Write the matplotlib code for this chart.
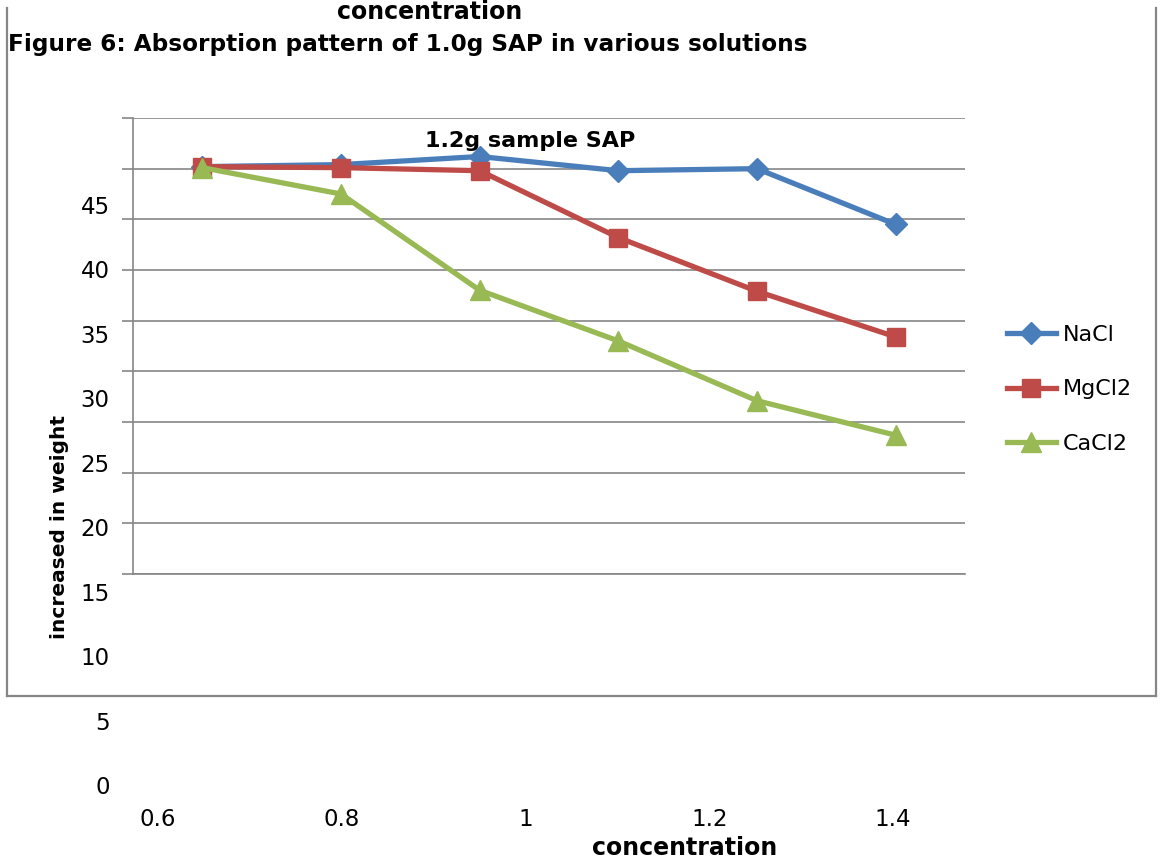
import numpy as np
import matplotlib.pyplot as plt
from matplotlib.lines import Line2D

# concentrations of the salt solutions
conc = [0.65, 0.8, 0.95, 1.1, 1.25, 1.4]
# increase in weight for each salt
nacl = [50.2, 50.4, 51.2, 49.8, 50.0, 44.5]
mgcl2 = [50.2, 50.1, 49.8, 43.2, 37.9, 33.4]
cacl2 = [50.1, 47.5, 38.0, 33.0, 27.1, 23.7]

grid_vals = np.arange(10, 56, 5)
ytick_labels = [0, 5, 10, 15, 20, 25, 30, 35, 40, 45]
xtick_labels = [0.6, 0.8, 1, 1.2, 1.4]

W, H = 1160, 865
fig = plt.figure(figsize=(W / 100, H / 100), dpi=100)
fig.patch.set_facecolor('white')

def box(l, t, r, b):
    return [l / W, 1 - b / H, (r - l) / W, (b - t) / H]

gray = '#868686'

# outer frame around the chart object (no top edge)
for xs, ys in [((7, 7), (8, 696)), ((7, 1156), (696, 696)), ((1156, 1156), (8, 696))]:
    fig.add_artist(Line2D([x / W for x in xs], [1 - y / H for y in ys],
                          color=gray, lw=1.6))

# plot area with gridlines
ax = fig.add_axes(box(133, 118, 965, 574))
ax.set_xlim(-0.5, 5.5)
ax.set_ylim(10, 55)
ax.set_yticks(grid_vals)
ax.set_yticklabels([])
ax.set_xticks([])
ax.grid(axis='y', color=gray, lw=1.2)
ax.tick_params(axis='y', length=8, width=1.2, color=gray)
for s in ['top', 'right']:
    ax.spines[s].set_visible(False)
for s in ['left', 'bottom']:
    ax.spines[s].set_color(gray)
    ax.spines[s].set_linewidth(1.2)
ax.set_axisbelow(True)

idx = np.arange(len(conc))
ax.plot(idx, nacl, color='#4A7EBB', lw=3.8, marker='D', ms=11, label='NaCl', clip_on=False)
ax.plot(idx, mgcl2, color='#BE4B48', lw=3.8, marker='s', ms=13, label='MgCl2', clip_on=False)
ax.plot(idx, cacl2, color='#98B954', lw=3.8, marker='^', ms=14, label='CaCl2', clip_on=False)

ax.text(0.477, 0.95, '1.2g sample SAP', transform=ax.transAxes, ha='center', va='center',
        fontsize=16, fontweight='bold')

leg = fig.legend(loc='upper left', bbox_to_anchor=(998 / W, 1 - 316 / H), frameon=False,
                 fontsize=16, handlelength=2.2, handletextpad=0.3, labelspacing=1.55,
                 borderaxespad=0)

# tick label layer
ax2 = fig.add_axes(box(118, 118, 965, 800))
ax2.set_xlim(0.6 - 40 / 918.75, 0.6 + 807 / 918.75)
ax2.set_ylim(-15 / 12.89, (785 - 118) / 12.89)
ax2.patch.set_alpha(0)
for s in ax2.spines.values():
    s.set_visible(False)
ax2.set_xticks(xtick_labels)
ax2.set_xticklabels([f'{v:g}' for v in xtick_labels])
ax2.set_yticks(ytick_labels)
ax2.set_yticklabels([str(v) for v in ytick_labels])
ax2.tick_params(length=0, labelsize=16.5, pad=6)
ax2.set_xlabel('concentration', fontsize=17, fontweight='bold', va='center')
ax2.xaxis.set_label_coords((685 - 118) / (965 - 118), -(848 - 800) / (800 - 118))
ax2.set_ylabel('increased in weight', fontsize=14.5, fontweight='bold', va='center')
ax2.yaxis.set_label_coords(-(118 - 60) / (965 - 118), 1 - (527 - 118) / (800 - 118))

fig.text(430 / W, 1 - 12 / H, 'concentration', ha='center', va='center',
         fontsize=17, fontweight='bold')
fig.text(8 / W, 1 - 44 / H, 'Figure 6: Absorption pattern of 1.0g SAP in various solutions',
         ha='left', va='center', fontsize=16.7, fontweight='bold')

fig.savefig('out.png', dpi=100)
